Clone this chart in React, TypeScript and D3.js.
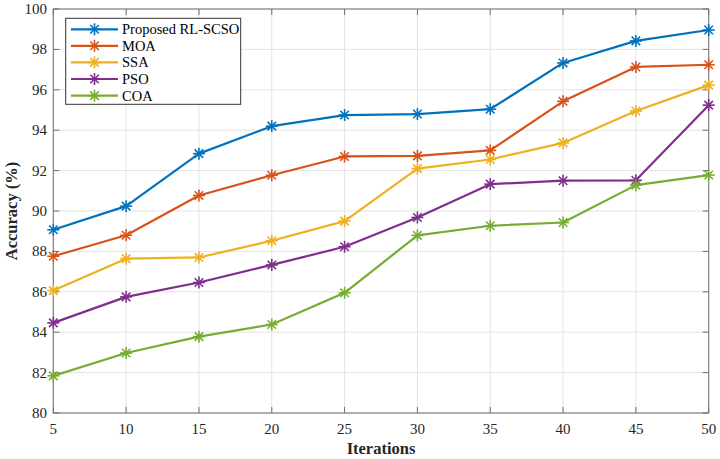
import React from "react";
import * as d3 from "d3";

const iterations = [5, 10, 15, 20, 25, 30, 35, 40, 45, 50];
const seriesNames = ["Proposed RL-SCSO", "MOA", "SSA", "PSO", "COA"];
const rlscso = [89.07, 90.24, 92.84, 94.2, 94.75, 94.8, 95.04, 97.33, 98.42, 98.96];
const moa = [87.76, 88.8, 90.77, 91.77, 92.7, 92.73, 93.0, 95.43, 97.13, 97.24];
const ssa = [86.06, 87.64, 87.7, 88.53, 89.5, 92.1, 92.55, 93.37, 94.95, 96.23];
const pso = [84.46, 85.75, 86.46, 87.33, 88.23, 89.68, 91.33, 91.5, 91.52, 95.24];
const coa = [81.84, 82.97, 83.78, 84.38, 85.95, 88.79, 89.27, 89.43, 91.28, 91.78];
const colors = ["#0072BD", "#D95319", "#EDB120", "#7E2F8E", "#77AC30"];
const xTicks = [5, 10, 15, 20, 25, 30, 35, 40, 45, 50];
const yTicks = [80, 82, 84, 86, 88, 90, 92, 94, 96, 98, 100];

const W = 720, H = 459;
const L = 53.3, R = 708.7, T = 9, B = 413;
const FONT = "'Liberation Serif', 'Times New Roman', serif";

function Star({ cx, cy, color, r = 6 }: { cx: number; cy: number; color: string; r?: number }) {
  const d = r * 0.7071;
  return (
    <g stroke={color} strokeWidth={1.6}>
      <line x1={cx - r} y1={cy} x2={cx + r} y2={cy} />
      <line x1={cx} y1={cy - r} x2={cx} y2={cy + r} />
      <line x1={cx - d} y1={cy - d} x2={cx + d} y2={cy + d} />
      <line x1={cx - d} y1={cy + d} x2={cx + d} y2={cy - d} />
    </g>
  );
}

export default function App() {
  const x = d3.scaleLinear().domain([5, 50]).range([L, R]);
  const y = d3.scaleLinear().domain([80, 100]).range([B, T]);
  const data = [rlscso, moa, ssa, pso, coa];
  const line = d3.line<number>().x((_, i) => x(iterations[i])).y((v) => y(v));
  const axisColor = "#6e6e6e";
  const legY = [29.3, 45.8, 62.4, 79, 95.6];

  return (
    <svg width={W} height={H} style={{ position: "absolute", left: 0, top: 0, background: "#fff" }}>
      <rect x={0} y={0} width={W} height={H} fill="#fff" />
      {/* grid */}
      {xTicks.map((t) => (
        <line key={"gx" + t} x1={x(t)} x2={x(t)} y1={T} y2={B} stroke="#e3e3e3" strokeWidth={1} />
      ))}
      {yTicks.map((t) => (
        <line key={"gy" + t} x1={L} x2={R} y1={y(t)} y2={y(t)} stroke="#e3e3e3" strokeWidth={1} />
      ))}
      {/* box */}
      <rect x={L} y={T} width={R - L} height={B - T} fill="none" stroke={axisColor} strokeWidth={1} />
      {/* ticks */}
      {xTicks.map((t) => (
        <g key={"tx" + t}>
          <line x1={x(t)} x2={x(t)} y1={B} y2={B - 6} stroke={axisColor} />
          <line x1={x(t)} x2={x(t)} y1={T} y2={T + 6} stroke={axisColor} />
          <text x={x(t)} y={434} textAnchor="middle" fontFamily={FONT} fontSize={15} fill="#262626">
            {t}
          </text>
        </g>
      ))}
      {yTicks.map((t) => (
        <g key={"ty" + t}>
          <line x1={L} x2={L + 6} y1={y(t)} y2={y(t)} stroke={axisColor} />
          <line x1={R} x2={R - 6} y1={y(t)} y2={y(t)} stroke={axisColor} />
          <text x={47} y={y(t) + 5} textAnchor="end" fontFamily={FONT} fontSize={15} fill="#262626">
            {t}
          </text>
        </g>
      ))}
      {/* series */}
      {data.map((s, k) => (
        <g key={"s" + k}>
          <path d={line(s) || ""} fill="none" stroke={colors[k]} strokeWidth={2.2} strokeLinejoin="round" />
          {s.map((v, i) => (
            <Star key={i} cx={x(iterations[i])} cy={y(v)} color={colors[k]} />
          ))}
        </g>
      ))}
      {/* legend */}
      <rect x={65.7} y={18.3} width={175} height={86} fill="#fff" stroke="#333" strokeWidth={1} />
      {seriesNames.map((n, k) => (
        <g key={"l" + k}>
          <line x1={71} x2={118} y1={legY[k]} y2={legY[k]} stroke={colors[k]} strokeWidth={2.2} />
          <Star cx={94.5} cy={legY[k]} color={colors[k]} />
          <text x={122} y={legY[k] + 5} fontFamily={FONT} fontSize={14.5} fill="#000">
            {n}
          </text>
        </g>
      ))}
      {/* axis labels */}
      <text x={(L + R) / 2} y={454} textAnchor="middle" fontFamily={FONT} fontSize={16.5} fontWeight="bold" fill="#262626">
        Iterations
      </text>
      <text
        transform={`translate(17, ${(T + B) / 2}) rotate(-90)`}
        textAnchor="middle"
        fontFamily={FONT}
        fontSize={16.5}
        fontWeight="bold"
        fill="#262626"
      >
        Accuracy (%)
      </text>
    </svg>
  );
}
